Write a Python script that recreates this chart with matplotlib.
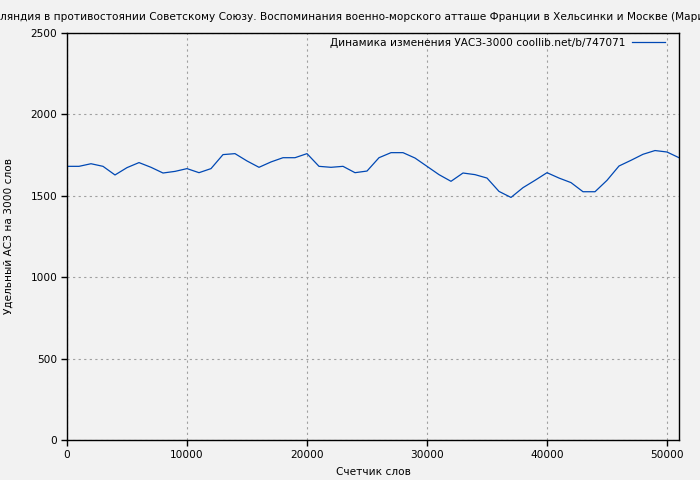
import matplotlib
matplotlib.use("Agg")
import matplotlib.pyplot as plt
import numpy as np

# --- data ---
word_counter = list(range(0, 52000, 1000))
uasz_values = [
    1681, 1681, 1697, 1681, 1628, 1673, 1704, 1675, 1640, 1650,
    1667, 1642, 1667, 1753, 1759, 1714, 1675, 1708, 1734, 1734,
    1759, 1681, 1675, 1681, 1642, 1652, 1734, 1765, 1765, 1732,
    1681, 1630, 1589, 1640, 1630, 1609, 1527, 1490, 1550, 1595,
    1642, 1609, 1581, 1525, 1525, 1595, 1683, 1718, 1755, 1778,
    1769, 1734,
]

title_text = ("ляндия в противостоянии Советскому Союзу. Воспоминания "
              "военно-морского атташе Франции в Хельсинки и Москве (Мари")
legend_label = "Динамика изменения УАСЗ-3000 coollib.net/b/747071"
x_label = "Счетчик слов"
y_label = "Удельный АСЗ на 3000 слов"

bg = "#f2f2f2"
line_color = "#0048b4"
fs = 7.6

plt.rcParams['font.family'] = ['DejaVu Sans']

fig = plt.figure(figsize=(7, 4.8), dpi=100, facecolor=bg)
ax = fig.add_axes([67 / 700, 1 - 440 / 480, 612 / 700, 407 / 480])
ax.set_facecolor(bg)

ax.plot(word_counter, uasz_values, color=line_color, linewidth=0.9, label=legend_label)

ax.set_xlim(0, 51000)
ax.set_ylim(0, 2500)
ax.set_xticks(np.arange(0, 51000, 10000))
ax.set_yticks(np.arange(0, 2501, 500))

ax.grid(True, color="#a0a0a0", linestyle=(0, (2, 3)), linewidth=0.8)
ax.tick_params(axis='both', direction='out', length=4, width=1, labelsize=fs, pad=3)
for sp in ax.spines.values():
    sp.set_linewidth(1)
    sp.set_color("black")

ax.set_xlabel(x_label, fontsize=fs, labelpad=5)
ax.set_ylabel(y_label, fontsize=fs, labelpad=12)

# title is wider than the figure, cut at both edges as in the source
fig.text(0, 1 - 16.5 / 480, title_text, fontsize=fs, ha='left', va='center')

ax.legend(loc='upper right', bbox_to_anchor=((665 - 67) / 612, 1 - 5 / 407),
          frameon=False, markerfirst=False, fontsize=fs,
          handlelength=3.1, borderaxespad=0, borderpad=0, handletextpad=0.65)

fig.savefig("out.png", dpi=100, facecolor=bg)
